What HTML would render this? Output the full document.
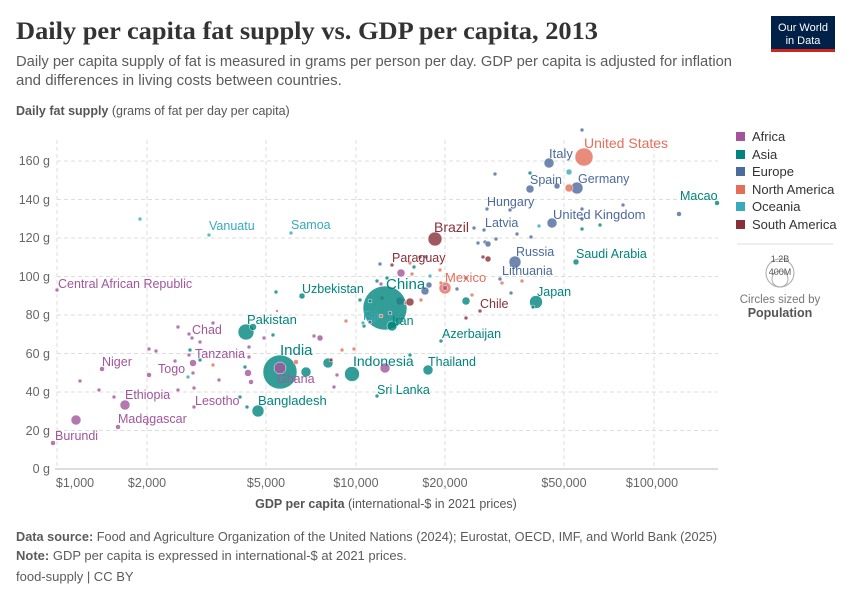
<!DOCTYPE html>
<html><head><meta charset="utf-8"><style>
body{margin:0;background:#fff;}
svg text{font-family:"Liberation Sans",sans-serif;}
</style></head><body>
<svg width="850" height="600" xmlns="http://www.w3.org/2000/svg">
<text x="16" y="39" style="font-family:'Liberation Serif',serif" font-size="25" font-weight="bold" fill="#333" textLength="582" lengthAdjust="spacingAndGlyphs">Daily per capita fat supply vs. GDP per capita, 2013</text>
<text x="16" y="66" font-size="15" fill="#5b5b5b" textLength="716" lengthAdjust="spacingAndGlyphs">Daily per capita supply of fat is measured in grams per person per day. GDP per capita is adjusted for inflation</text>
<text x="16" y="85" font-size="15" fill="#5b5b5b">and differences in living costs between countries.</text>
<rect x="771" y="16" width="64" height="35" fill="#002147"/>
<rect x="771" y="49" width="64" height="3" fill="#ce261e"/>
<text x="803" y="31" font-size="11" fill="#fff" text-anchor="middle">Our World</text>
<text x="803" y="44" font-size="11" fill="#fff" text-anchor="middle">in Data</text>
<text x="16" y="115" font-size="12.5" fill="#555"><tspan font-weight="bold">Daily fat supply</tspan> (grams of fat per day per capita)</text>
<g stroke="#ddd" stroke-dasharray="4,3" stroke-width="1">
<line x1="57" x2="718" y1="430.5" y2="430.5"/><line x1="57" x2="718" y1="392" y2="392"/><line x1="57" x2="718" y1="353.5" y2="353.5"/><line x1="57" x2="718" y1="315" y2="315"/><line x1="57" x2="718" y1="276.5" y2="276.5"/><line x1="57" x2="718" y1="238" y2="238"/><line x1="57" x2="718" y1="199.5" y2="199.5"/><line x1="57" x2="718" y1="161" y2="161"/>
<line x1="57" x2="57" y1="140" y2="468"/><line x1="147" x2="147" y1="140" y2="468"/><line x1="266" x2="266" y1="140" y2="468"/><line x1="356" x2="356" y1="140" y2="468"/><line x1="445" x2="445" y1="140" y2="468"/><line x1="564" x2="564" y1="140" y2="468"/><line x1="654" x2="654" y1="140" y2="468"/>
</g>
<line x1="55" x2="718" y1="469" y2="469" stroke="#bbb"/>
<g font-size="12.5" fill="#666" text-anchor="end">
<text x="50" y="473">0 g</text><text x="50" y="435">20 g</text><text x="50" y="396">40 g</text><text x="50" y="358">60 g</text><text x="50" y="319">80 g</text><text x="50" y="281">100 g</text><text x="50" y="242">120 g</text><text x="50" y="204">140 g</text><text x="50" y="165">160 g</text>
</g>
<g font-size="12.5" fill="#666" text-anchor="middle">
<text x="75" y="487">$1,000</text><text x="147" y="487">$2,000</text><text x="266" y="487">$5,000</text><text x="356" y="487">$10,000</text><text x="445" y="487">$20,000</text><text x="564" y="487">$50,000</text><text x="652" y="487">$100,000</text>
</g>
<text x="386" y="508" font-size="12.5" fill="#555" text-anchor="middle"><tspan font-weight="bold">GDP per capita</tspan> (international-$ in 2021 prices)</text>
<g stroke="#fff" stroke-width="0.5" fill-opacity="0.8">
<g fill="#a2559c">
<circle cx="53" cy="443" r="2.5"/><circle cx="76" cy="420" r="5"/><circle cx="118" cy="427" r="2.5"/><circle cx="125" cy="405" r="5"/>
<circle cx="80" cy="381" r="2"/><circle cx="99" cy="390" r="2"/><circle cx="114" cy="397" r="2"/><circle cx="102" cy="369" r="2.5"/>
<circle cx="149" cy="375" r="2.5"/><circle cx="149" cy="349" r="2"/><circle cx="156" cy="351" r="2"/><circle cx="175" cy="361" r="2"/><circle cx="193" cy="363" r="3.5"/><circle cx="193" cy="373" r="2"/><circle cx="219" cy="380" r="2"/><circle cx="194" cy="388" r="2"/><circle cx="189" cy="355" r="2"/><circle cx="248" cy="373" r="3.5"/><circle cx="251" cy="382" r="2.5"/><circle cx="249" cy="357" r="2"/><circle cx="249" cy="347" r="2"/><circle cx="194" cy="407" r="2"/><circle cx="147" cy="424" r="1.5"/>
<circle cx="178" cy="327" r="2"/><circle cx="189" cy="334" r="2"/><circle cx="192" cy="338" r="2"/><circle cx="200" cy="342" r="2"/><circle cx="213" cy="323" r="2"/><circle cx="178" cy="390" r="2"/>
<circle cx="264" cy="338" r="2"/><circle cx="314" cy="336" r="2"/><circle cx="320" cy="338" r="3"/><circle cx="337" cy="375" r="2"/><circle cx="334" cy="387" r="2"/>
<circle cx="57" cy="290" r="2"/><circle cx="385" cy="368" r="5"/><circle cx="400" cy="301" r="4"/><circle cx="401" cy="273" r="4"/><circle cx="381" cy="284" r="2"/><circle cx="382" cy="298" r="2"/>
</g>
<g fill="#00847e">
<circle cx="280" cy="372" r="17"/><circle cx="246" cy="332" r="8"/><circle cx="253" cy="327" r="3.5"/><circle cx="273" cy="335" r="2"/><circle cx="258" cy="411" r="6"/><circle cx="306" cy="372" r="5"/><circle cx="328" cy="363" r="5"/><circle cx="352" cy="374" r="7.5"/><circle cx="245" cy="367" r="2"/><circle cx="247" cy="407" r="2"/><circle cx="240" cy="397" r="2"/><circle cx="200" cy="360" r="2"/><circle cx="190" cy="350" r="2"/><circle cx="377" cy="396" r="2"/><circle cx="276" cy="292" r="2"/><circle cx="302" cy="296" r="3"/><circle cx="385" cy="308" r="22"/><circle cx="392" cy="326" r="5"/><circle cx="370" cy="301" r="2"/><circle cx="364" cy="326" r="2"/><circle cx="441" cy="341" r="2"/><circle cx="428" cy="370" r="5"/><circle cx="410" cy="355" r="2"/><circle cx="466" cy="301" r="4"/><circle cx="536" cy="302" r="6.5"/><circle cx="576" cy="262" r="3"/><circle cx="717" cy="203" r="2.5"/><circle cx="530" cy="173" r="2"/><circle cx="600" cy="225" r="2"/><circle cx="582" cy="229" r="2"/><circle cx="414" cy="267" r="2"/><circle cx="377" cy="281" r="2"/><circle cx="387" cy="278" r="2"/><circle cx="360" cy="300" r="2"/><circle cx="533" cy="307" r="2"/>
</g>
<g fill="#4c6a9c">
<circle cx="549" cy="163" r="5"/><circle cx="582" cy="130" r="2"/><circle cx="495" cy="174" r="2"/><circle cx="530" cy="189" r="4"/><circle cx="557" cy="186" r="3"/><circle cx="577" cy="188" r="6"/><circle cx="623" cy="205" r="2"/><circle cx="679" cy="214" r="2.5"/><circle cx="487" cy="209" r="2"/><circle cx="510" cy="210" r="2"/><circle cx="552" cy="223" r="5"/><circle cx="582" cy="209" r="2"/><circle cx="582" cy="219" r="2"/><circle cx="474" cy="228" r="2"/><circle cx="484" cy="230" r="2"/><circle cx="517" cy="234" r="2"/><circle cx="531" cy="237" r="2"/><circle cx="496" cy="239" r="2"/><circle cx="485" cy="242" r="2"/><circle cx="488" cy="244" r="3"/><circle cx="478" cy="243" r="2"/><circle cx="515" cy="262" r="6"/><circle cx="380" cy="264" r="2"/><circle cx="500" cy="279" r="2"/><circle cx="457" cy="289" r="2"/><circle cx="425" cy="291" r="4"/><circle cx="429" cy="285" r="3"/><circle cx="511" cy="293" r="2"/><circle cx="426" cy="257" r="2"/><circle cx="370" cy="322" r="2"/><circle cx="390" cy="313" r="2"/>
</g>
<g fill="#e56e5a">
<circle cx="584" cy="157" r="9"/><circle cx="569" cy="188" r="4"/><circle cx="445" cy="288" r="6"/><circle cx="441" cy="283" r="2"/><circle cx="412" cy="274" r="2"/><circle cx="410" cy="263" r="2"/><circle cx="502" cy="283" r="2"/><circle cx="522" cy="281" r="2"/><circle cx="472" cy="295" r="2"/><circle cx="421" cy="300" r="2"/><circle cx="381" cy="316" r="2"/><circle cx="346" cy="321" r="2"/><circle cx="342" cy="350" r="2"/><circle cx="354" cy="349" r="2"/><circle cx="296" cy="362" r="2.5"/><circle cx="213" cy="365" r="2"/><circle cx="277" cy="311" r="1.5"/><circle cx="406" cy="303" r="2"/><circle cx="440" cy="270" r="2"/>
</g>
<g fill="#38aaba">
<circle cx="569" cy="172" r="3"/><circle cx="539" cy="226" r="2"/><circle cx="209" cy="235" r="2"/><circle cx="291" cy="233" r="2"/><circle cx="140" cy="219" r="2"/><circle cx="188" cy="377" r="2"/><circle cx="363" cy="323" r="2"/><circle cx="430" cy="276" r="2"/>
</g>
<g fill="#883039">
<circle cx="435" cy="239" r="7"/><circle cx="392" cy="265" r="2"/><circle cx="420" cy="257" r="2"/><circle cx="483" cy="257" r="2"/><circle cx="488" cy="259" r="3"/><circle cx="410" cy="302" r="4"/><circle cx="480" cy="311" r="2"/><circle cx="466" cy="318" r="2"/><circle cx="466" cy="278" r="2"/><circle cx="331" cy="360" r="2"/>
</g>
<circle cx="280" cy="368" r="6" fill="#a2559c"/><circle cx="445" cy="288" r="2.5" fill="#a2559c"/>
</g>
<g font-size="12.5">
<g fill="#a2559c">
<text x="55" y="440">Burundi</text><text x="118" y="423">Madagascar</text><text x="125" y="399">Ethiopia</text><text x="195" y="405">Lesotho</text><text x="102" y="366">Niger</text><text x="158" y="373">Togo</text><text x="195" y="358">Tanzania</text><text x="192" y="334">Chad</text><text x="58" y="288">Central African Republic</text><text x="277" y="383">Ghana</text>
</g>
<g fill="#00847e">
<text x="386" y="289" font-size="15">China</text><text x="280" y="355" font-size="15">India</text><text x="353" y="366" font-size="14">Indonesia</text><text x="247" y="324" font-size="13">Pakistan</text><text x="302" y="293">Uzbekistan</text><text x="392" y="325">Iran</text><text x="442" y="338">Azerbaijan</text><text x="428" y="366">Thailand</text><text x="377" y="394">Sri Lanka</text><text x="258" y="405" font-size="13">Bangladesh</text><text x="537" y="296">Japan</text><text x="576" y="258">Saudi Arabia</text><text x="680" y="200">Macao</text>
</g>
<g fill="#4c6a9c">
<text x="549" y="158" font-size="13">Italy</text><text x="530" y="184">Spain</text><text x="578" y="183">Germany</text><text x="487" y="206">Hungary</text><text x="553" y="219" font-size="13">United Kingdom</text><text x="485" y="227">Latvia</text><text x="516" y="256">Russia</text><text x="502" y="275">Lithuania</text>
</g>
<g fill="#e56e5a"><text x="584" y="148" font-size="14">United States</text><text x="445" y="282" font-size="13">Mexico</text></g>
<g fill="#883039"><text x="434" y="232" font-size="14">Brazil</text><text x="392" y="262">Paraguay</text><text x="480" y="308">Chile</text></g>
<g fill="#38aaba"><text x="363" y="320">Fiji</text><text x="209" y="230">Vanuatu</text><text x="291" y="229">Samoa</text></g>
</g>
<g font-size="13" fill="#333">
<rect x="736" y="132" width="9" height="9" fill="#a2559c"/><text x="752" y="141">Africa</text>
<rect x="736" y="150" width="9" height="9" fill="#00847e"/><text x="752" y="159">Asia</text>
<rect x="736" y="167" width="9" height="9" fill="#4c6a9c"/><text x="752" y="176">Europe</text>
<rect x="736" y="185" width="9" height="9" fill="#e56e5a"/><text x="752" y="194">North America</text>
<rect x="736" y="202" width="9" height="9" fill="#38aaba"/><text x="752" y="211">Oceania</text>
<rect x="736" y="220" width="9" height="9" fill="#883039"/><text x="752" y="229">South America</text>
</g>
<line x1="737" x2="833" y1="244" y2="244" stroke="#ddd"/>
<circle cx="780" cy="273" r="14" fill="none" stroke="#aaa"/>
<circle cx="780" cy="279" r="8" fill="none" stroke="#aaa"/>
<text x="780" y="262" font-size="9" fill="#555" text-anchor="middle">1.2B</text>
<text x="780" y="275" font-size="9" fill="#555" text-anchor="middle">400M</text>
<text x="780" y="303" font-size="11.5" fill="#777" text-anchor="middle">Circles sized by</text>
<text x="780" y="317" font-size="12.5" fill="#555" font-weight="bold" text-anchor="middle">Population</text>
<g font-size="13" fill="#5b5b5b">
<text x="16" y="541" textLength="701" lengthAdjust="spacingAndGlyphs"><tspan font-weight="bold">Data source:</tspan> Food and Agriculture Organization of the United Nations (2024); Eurostat, OECD, IMF, and World Bank (2025)</text>
<text x="16" y="560"><tspan font-weight="bold">Note:</tspan> GDP per capita is expressed in international-$ at 2021 prices.</text>
<text x="16" y="581">food-supply | CC BY</text>
</g>
</svg>
</body></html>
